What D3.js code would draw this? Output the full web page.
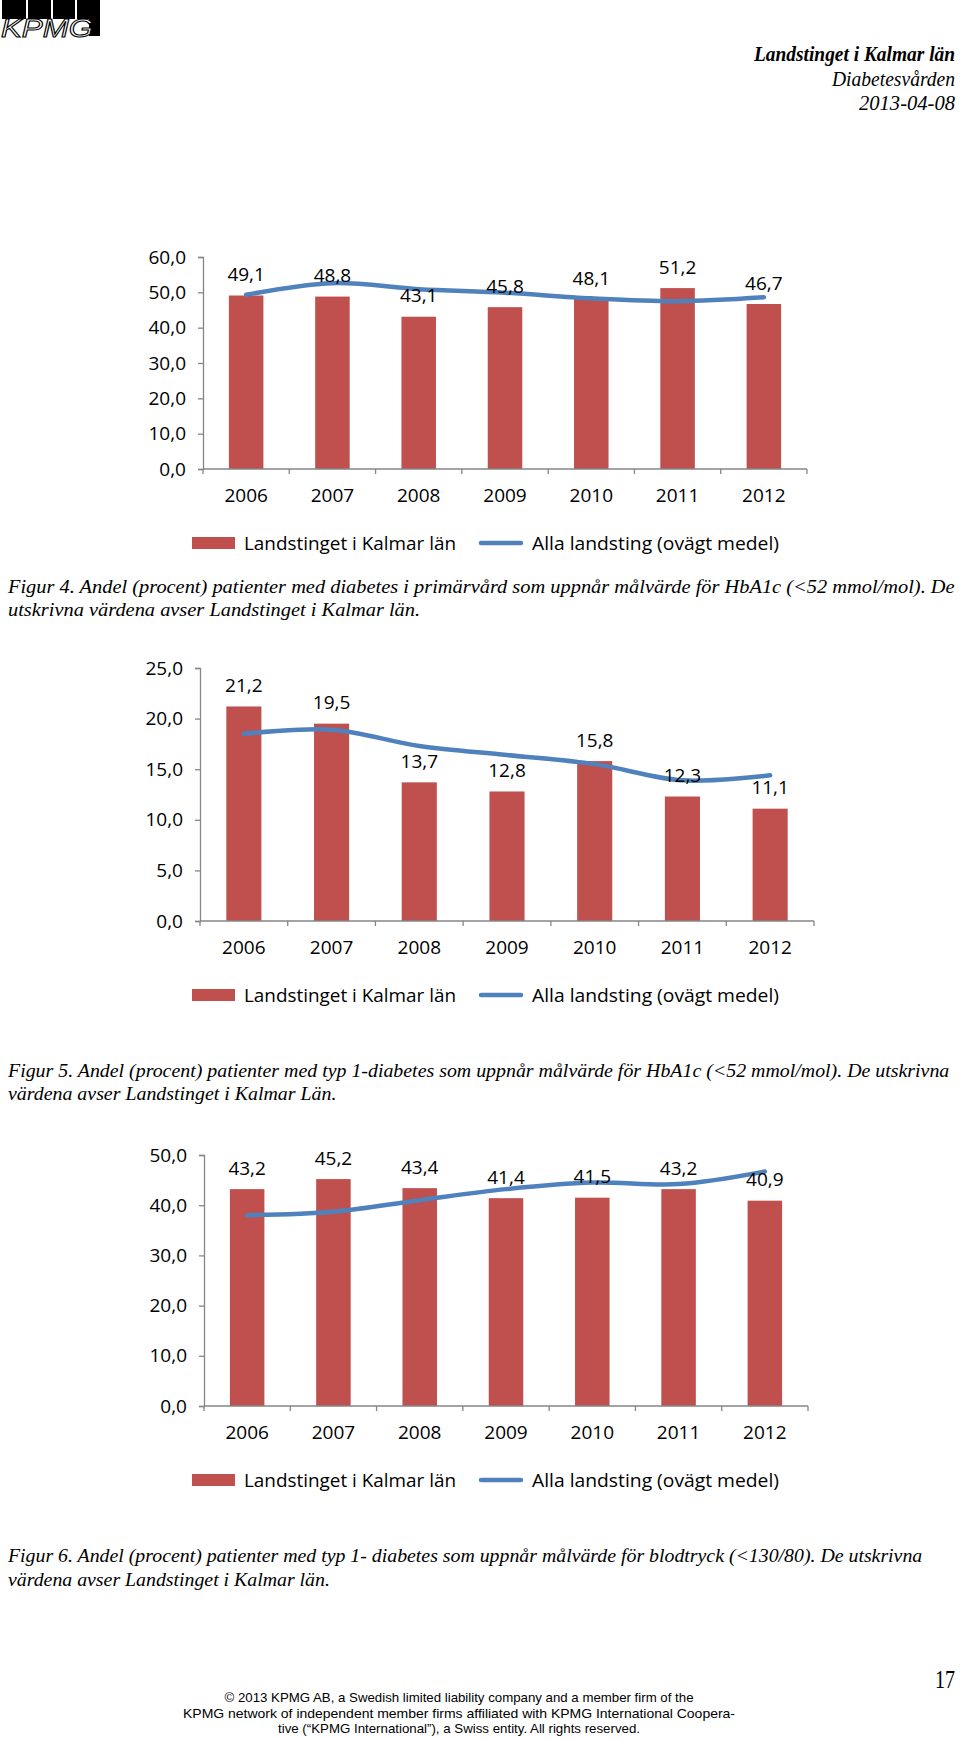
<!DOCTYPE html>
<html>
<head>
<meta charset="utf-8">
<script src="https://cdn.jsdelivr.net/npm/d3@7"></script>
<style>
  html, body { margin: 0; padding: 0; background: #fff; }
  svg { display: block; }
</style>
</head>
<body>
<svg id="page" width="960" height="1739"></svg>
<script>
// ---------- DATA ----------
const years = ["2006", "2007", "2008", "2009", "2010", "2011", "2012"];
const seriesNames = ["Landstinget i Kalmar län", "Alla landsting (ovägt medel)"];

const fig4Kalmar = [49.1, 48.8, 43.1, 45.8, 48.1, 51.2, 46.7];
const fig4Alla   = [49.3, 52.6, 50.9, 49.9, 48.3, 47.5, 48.6];
const fig4Ticks  = [0, 10, 20, 30, 40, 50, 60];

const fig5Kalmar = [21.2, 19.5, 13.7, 12.8, 15.8, 12.3, 11.1];
const fig5Alla   = [18.5, 18.9, 17.3, 16.4, 15.5, 13.9, 14.4];
const fig5Ticks  = [0, 5, 10, 15, 20, 25];

const fig6Kalmar = [43.2, 45.2, 43.4, 41.4, 41.5, 43.2, 40.9];
const fig6Alla   = [38.0, 38.7, 41.0, 43.2, 44.5, 44.2, 46.7];
const fig6Ticks  = [0, 10, 20, 30, 40, 50];

const headerLines = ["Landstinget i Kalmar län", "Diabetesvården", "2013-04-08"];
const caption4 = ["Figur 4. Andel (procent) patienter med diabetes i primärvård som uppnår målvärde för HbA1c (<52 mmol/mol). De",
                  "utskrivna värdena avser Landstinget i Kalmar län."];
const caption5 = ["Figur 5. Andel (procent) patienter med typ 1-diabetes som uppnår målvärde för HbA1c (<52 mmol/mol). De utskrivna",
                  "värdena avser Landstinget i Kalmar Län."];
const caption6 = ["Figur 6. Andel (procent) patienter med typ 1- diabetes som uppnår målvärde för blodtryck (<130/80). De utskrivna",
                  "värdena avser Landstinget i Kalmar län."];
const footerLines = ["© 2013 KPMG AB, a Swedish limited liability company and a member firm of the",
                     "KPMG network of independent member firms affiliated with KPMG International Coopera-",
                     "tive (“KPMG International”), a Swiss entity. All rights reserved."];
const pageNumber = "17";

// ---------- STYLE ----------
const BAR = "#C0504D", LINE = "#4F81BD", AXIS = "#868686";
const SANS = "'Open Sans', 'Noto Sans', sans-serif";
const SERIF = "'Liberation Serif', 'DejaVu Serif', serif";
const fmt = d => d.toFixed(1).replace(".", ",");

const svg = d3.select("#page");

// ---------- LOGO ----------
const logo = svg.append("g");
[[2, 24], [28, 23], [53, 22], [77, 23]].forEach(([x, w]) =>
  logo.append("rect").attr("x", x).attr("y", 0).attr("width", w).attr("height", 19).attr("fill", "#000"));
logo.append("rect").attr("x", 89).attr("y", 0).attr("width", 11).attr("height", 36).attr("fill", "#000");
logo.append("text").attr("x", 1).attr("y", 37)
  .attr("font-family", "'Liberation Sans', Arial, sans-serif").attr("font-style", "italic")
  .attr("font-size", 25).attr("textLength", 92).attr("lengthAdjust", "spacingAndGlyphs")
  .attr("fill", "#fff").attr("stroke", "#000").attr("stroke-width", 1)
  .text("KPMG");

// ---------- HEADER ----------
const hdr = [{y: 61, w: 201, bold: true}, {y: 86, w: 123}, {y: 110, w: 96}];
headerLines.forEach((t, i) => {
  svg.append("text").attr("x", 955).attr("y", hdr[i].y).attr("text-anchor", "end")
    .attr("font-family", SERIF).attr("font-style", "italic")
    .attr("font-weight", hdr[i].bold ? "bold" : "normal")
    .attr("font-size", 20).attr("textLength", hdr[i].w).attr("lengthAdjust", "spacingAndGlyphs")
    .text(t);
});

// ---------- CHART ----------
function drawChart(cfg) {
  const g = svg.append("g");
  const x = d3.scaleBand().domain(years).range([cfg.x0, cfg.x1]).padding(0);
  const y = d3.scaleLinear().domain([0, d3.max(cfg.ticks)]).range([cfg.y0, cfg.yTop]);
  const bw = x.bandwidth() * 0.4;

  g.selectAll("rect.bar").data(cfg.bars).join("rect")
    .attr("class", "bar")
    .attr("x", (d, i) => x(years[i]) + x.bandwidth() / 2 - bw / 2)
    .attr("y", d => y(d))
    .attr("width", bw)
    .attr("height", d => cfg.y0 - y(d))
    .attr("fill", BAR);

  const ya = g.append("g").attr("transform", `translate(${cfg.x0},0)`)
    .call(d3.axisLeft(y).tickValues(cfg.ticks).tickFormat(fmt).tickSize(5).tickPadding(12));
  ya.select(".domain").attr("stroke", AXIS).attr("stroke-width", 1.3);
  ya.selectAll(".tick line").attr("stroke", AXIS).attr("stroke-width", 1.3);
  ya.selectAll("text").attr("font-family", SANS).attr("font-size", 19).attr("fill", "#000");

  const xa = g.append("g").attr("transform", `translate(0,${cfg.y0})`)
    .call(d3.axisBottom(x).tickSize(0).tickPadding(20));
  xa.select(".domain").remove();
  xa.selectAll("text").attr("font-family", SANS).attr("font-size", 19).attr("fill", "#000");
  g.append("line").attr("x1", cfg.x0).attr("x2", cfg.x1).attr("y1", cfg.y0).attr("y2", cfg.y0)
    .attr("stroke", AXIS).attr("stroke-width", 1.3);
  const bounds = years.map(d => x(d)).concat([cfg.x1]);
  g.selectAll("line.xt").data(bounds).join("line").attr("class", "xt")
    .attr("x1", d => d).attr("x2", d => d).attr("y1", cfg.y0).attr("y2", cfg.y0 + 5)
    .attr("stroke", AXIS).attr("stroke-width", 1.3);

  const line = d3.line()
    .x((d, i) => x(years[i]) + x.bandwidth() / 2)
    .y(d => y(d))
    .curve(d3.curveCatmullRom.alpha(0.5));
  g.append("path").datum(cfg.line).attr("d", line)
    .attr("fill", "none").attr("stroke", LINE).attr("stroke-width", 4.5)
    .attr("stroke-linecap", "round").attr("stroke-linejoin", "round");

  g.selectAll("text.lbl").data(cfg.bars).join("text").attr("class", "lbl")
    .attr("x", (d, i) => x(years[i]) + x.bandwidth() / 2)
    .attr("y", d => y(d) - 21)
    .attr("dy", "0.35em")
    .attr("text-anchor", "middle")
    .attr("font-family", SANS).attr("font-size", 19).attr("fill", "#000")
    .text(fmt);

  const ly = cfg.legendY;
  g.append("rect").attr("x", 192).attr("y", ly - 6).attr("width", 43).attr("height", 12).attr("fill", BAR);
  g.append("text").attr("x", 244).attr("y", ly).attr("dy", "0.35em")
    .attr("font-family", SANS).attr("font-size", 19)
    .attr("textLength", 212).attr("lengthAdjust", "spacingAndGlyphs").text(seriesNames[0]);
  g.append("line").attr("x1", 481).attr("x2", 521).attr("y1", ly).attr("y2", ly)
    .attr("stroke", LINE).attr("stroke-width", 4.5).attr("stroke-linecap", "round");
  g.append("text").attr("x", 532).attr("y", ly).attr("dy", "0.35em")
    .attr("font-family", SANS).attr("font-size", 19)
    .attr("textLength", 247).attr("lengthAdjust", "spacingAndGlyphs").text(seriesNames[1]);
}

drawChart({bars: fig4Kalmar, line: fig4Alla, ticks: fig4Ticks,
           x0: 203, x1: 807, y0: 469, yTop: 257, legendY: 543});
drawChart({bars: fig5Kalmar, line: fig5Alla, ticks: fig5Ticks,
           x0: 200, x1: 814, y0: 921, yTop: 668, legendY: 995});
drawChart({bars: fig6Kalmar, line: fig6Alla, ticks: fig6Ticks,
           x0: 204, x1: 808, y0: 1406, yTop: 1155, legendY: 1480});

// ---------- CAPTIONS (italic serif; both lines share the horizontal scale fitted on line 1) ----------
function caption(lines, ys, width1) {
  const g = svg.append("g");
  const texts = lines.map((t, i) => g.append("text").attr("x", 0).attr("y", ys[i])
    .attr("font-family", SERIF).attr("font-style", "italic").attr("font-size", 19)
    .text(t));
  const sx = width1 / texts[0].node().getComputedTextLength();
  g.attr("transform", `translate(8,0) scale(${sx},1)`);
}
caption(caption4, [593, 616], 947);
caption(caption5, [1077, 1100], 942);
caption(caption6, [1562, 1586], 915);

// ---------- PAGE NUMBER & FOOTER ----------
svg.append("text").attr("x", 955).attr("y", 1688).attr("text-anchor", "end")
  .attr("font-family", SERIF).attr("font-size", 25)
  .attr("textLength", 20).attr("lengthAdjust", "spacingAndGlyphs").text(pageNumber);

const fw = [469, 552, 362], fy = [1702, 1718, 1733];
footerLines.forEach((t, i) => {
  svg.append("text").attr("x", 459).attr("y", fy[i]).attr("text-anchor", "middle")
    .attr("font-family", "'Liberation Sans', Arial, sans-serif").attr("font-size", 13)
    .attr("textLength", fw[i]).attr("lengthAdjust", "spacingAndGlyphs").text(t);
});
</script>
</body>
</html>
